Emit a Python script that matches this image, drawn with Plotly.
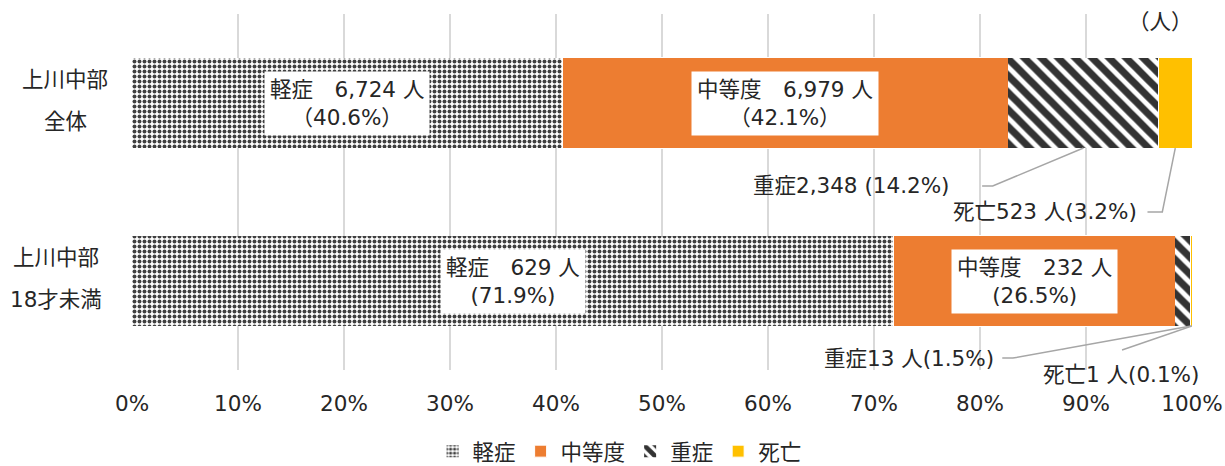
import plotly.graph_objects as go

# ---- data ----
categories = ["上川中部 全体", "上川中部 18才未満"]
category_lines = [["上川中部", "全体"], ["上川中部", "18才未満"]]
severity = ["軽症", "中等度", "重症", "死亡"]
counts_all = [6724, 6979, 2348, 523]
counts_u18 = [629, 232, 13, 1]
x_ticks = [0, 10, 20, 30, 40, 50, 60, 70, 80, 90, 100]
x_tick_labels = ["0%", "10%", "20%", "30%", "40%", "50%", "60%", "70%", "80%", "90%", "100%"]

FONT = "DejaVu Sans, Noto Sans CJK JP, sans-serif"
TXT = "#262626"
DARK = "#333333"
FS = 21.5

markers = [
    dict(color="white", line=dict(width=0),
         pattern=dict(shape=".", fgcolor="#404040", bgcolor="white", fgopacity=1,
                      size=5, solidity=0.5)),
    dict(color="#ED7D31", line=dict(width=1, color="white")),
    dict(color="white", line=dict(width=0),
         pattern=dict(shape="\\", fgcolor=DARK, bgcolor="white", fgopacity=1,
                      size=12, solidity=0.6)),
    dict(color="#FFC000", line=dict(width=1, color="white")),
]

fig = go.Figure()
for i, s in enumerate(severity):
    fig.add_trace(go.Bar(
        y=categories, x=[counts_all[i], counts_u18[i]], orientation="h",
        name=s, marker=markers[i], hoverinfo="x+name",
    ))

# percentages and segment positions derived from the data
def pcts(counts):
    t = sum(counts)
    return [c / t * 100 for c in counts]

rows = [counts_all, counts_u18]
pct_rows = [pcts(r) for r in rows]
starts = []
for p in pct_rows:
    acc, st = 0, []
    for v in p:
        st.append(acc)
        acc += v
    starts.append(st)
mids = [[starts[r][k] + pct_rows[r][k] / 2 for k in range(4)] for r in range(2)]

annotations = []
# in-bar boxed labels
box_texts = [
    [f"軽症　{counts_all[0]:,} 人<br>（{pct_rows[0][0]:.1f}%）",
     f"中等度　{counts_all[1]:,} 人<br>（{pct_rows[0][1]:.1f}%）"],
    [f"軽症　{counts_u18[0]:,} 人<br>({pct_rows[1][0]:.1f}%)",
     f"中等度　{counts_u18[1]:,} 人<br>({pct_rows[1][1]:.1f}%)"],
]
for r in range(2):
    for k in range(2):
        annotations.append(dict(
            x=mids[r][k], y=categories[r], xref="x", yref="y", text=box_texts[r][k],
            showarrow=False, bgcolor="white", borderpad=5,
            font=dict(size=FS, color=TXT, family=FONT), align="center",
        ))

# category labels (two centered lines each)
cat_x = [-0.063, -0.072]
for r in range(2):
    for j, line in enumerate(category_lines[r]):
        annotations.append(dict(
            x=cat_x[r], y=categories[r], xref="paper", yref="y", text=line,
            showarrow=False, xanchor="center", yshift=24 if j == 0 else -18,
            font=dict(size=FS, color=TXT, family=FONT),
        ))

# outside labels with leader lines
HB = 0.253  # half bar thickness in category units
PX_PER_CAT = 178
outside = [
    # (row, seg, text, text_x, text_y, elbow_x, end_x, end_y, anchor)
    (0, 2, f"重症{counts_all[2]:,} ({pct_rows[0][2]:.1f}%)", 77.3, 0.466, 81.2, 80.2, 0.466, "right"),
    (0, 3, f"死亡{counts_all[3]:,} 人({pct_rows[0][3]:.1f}%)", 95.0, 0.612, 97.2, 95.8, 0.612, "right"),
    (1, 2, f"重症{counts_u18[2]:,} 人({pct_rows[1][2]:.1f}%)", 81.5, 1.433, 83.1, 82.1, 1.433, "right"),
    (1, 3, f"死亡{counts_u18[3]:,} 人({pct_rows[1][3]:.1f}%)", 93.3, 1.528, None, 93.4, 1.388, "center"),
]
shapes = []
for (r, k, text, tx, ty, ex, endx, endy, anc) in outside:
    y_in = min(ty, 1.45)
    annotations.append(dict(
        x=tx, y=y_in, xref="x", yref="y", text=text, showarrow=False,
        yshift=-(ty - y_in) * PX_PER_CAT,
        xanchor=anc, yanchor="middle", font=dict(size=FS, color=TXT, family=FONT),
    ))
    ax_x = mids[r][k] if r == 0 else min(mids[r][k] + 1.0, 99.9)
    ay = r + HB
    if ex is None:
        path = f"M {ax_x + 0.1},{ay} L {endx},{endy}"
    else:
        path = f"M {ax_x},{ay} L {ex},{endy} L {endx},{endy}"
    shapes.append(dict(type="path", path=path, xref="x", yref="y",
                       line=dict(color="#A6A6A6", width=1.5)))

annotations.append(dict(x=0.97, y=0.978, xref="paper", yref="paper", text="（人）",
                        showarrow=False, xanchor="center", yanchor="middle",
                        font=dict(size=FS, color=TXT, family=FONT)))

fig.update_layout(
    width=1225, height=466,
    margin=dict(l=132, r=33, t=14, b=96, autoexpand=False),
    paper_bgcolor="white", plot_bgcolor="white",
    barmode="stack", barnorm="percent", bargap=0.494,
    font=dict(family=FONT, size=FS, color=TXT),
    xaxis=dict(range=[0, 100], tickvals=x_ticks, ticktext=x_tick_labels,
               showgrid=True, gridcolor="#D9D9D9", gridwidth=1.5,
               zeroline=False, showline=False, ticks="", ticklabelstandoff=18,
               tickfont=dict(size=FS, color=TXT, family=FONT), fixedrange=True,
               automargin=False),
    yaxis=dict(categoryorder="array", categoryarray=categories, autorange=False,
               showticklabels=False, showgrid=False, zeroline=False, showline=False,
               range=[1.5, -0.5], automargin=False, fixedrange=True),
    legend=dict(orientation="h", x=0.46, y=-0.228, xanchor="center", yanchor="middle",
                traceorder="normal", font=dict(size=FS, color=TXT, family=FONT),
                itemwidth=30),
    annotations=annotations,
    shapes=shapes,
    showlegend=True,
)

fig.write_html("out.html", config={"displayModeBar": False},
               post_script="document.body.style.margin='0';document.body.style.padding='0';")
